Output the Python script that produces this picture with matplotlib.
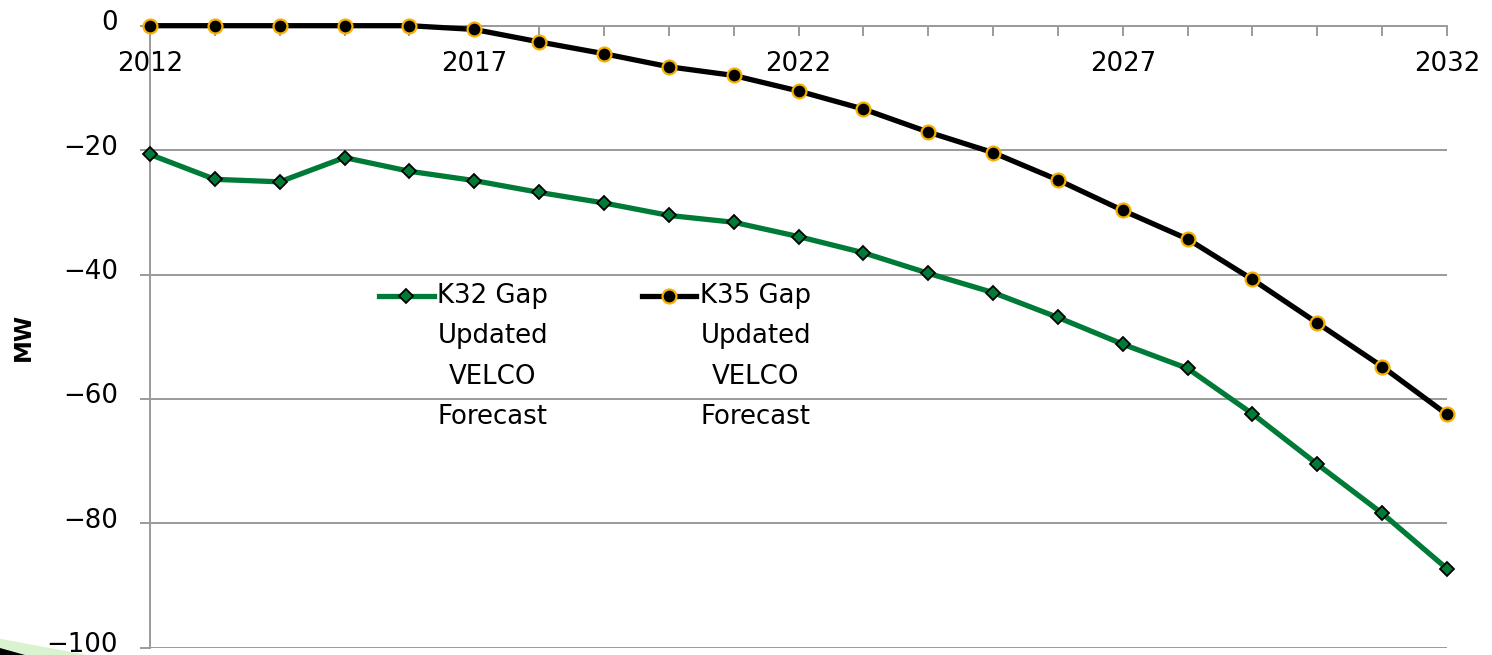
import matplotlib
matplotlib.use("Agg")
import matplotlib.pyplot as plt
from matplotlib.ticker import MultipleLocator, FixedLocator
from matplotlib.legend_handler import HandlerLine2D
from matplotlib.patches import Polygon
from matplotlib.transforms import ScaledTranslation

# ---- data ----
years = list(range(2012, 2033))
k32_gap = [-20.7, -24.7, -25.1, -21.2, -23.4, -24.9, -26.8, -28.5, -30.5, -31.6,
           -33.9, -36.5, -39.8, -42.9, -46.9, -51.2, -55.1, -62.4, -70.5, -78.4, -87.3]
k35_gap = [0.0, 0.0, 0.0, 0.0, 0.0, -0.6, -2.6, -4.5, -6.6, -8.0,
           -10.5, -13.4, -17.1, -20.4, -24.8, -29.7, -34.3, -40.8, -47.8, -54.8, -62.5]
x_tick_years = [2012, 2017, 2022, 2027, 2032]
series_labels = ["K32 Gap\nUpdated\nVELCO\nForecast", "K35 Gap\nUpdated\nVELCO\nForecast"]
y_label = "MW"

W, H, DPI = 1492, 655, 100
plt.rcParams['font.family'] = ['DejaVu Sans']
fig = plt.figure(figsize=(W / DPI, H / DPI), dpi=DPI)

# decoration bottom-left
fig.patches.append(Polygon([(0, 1 - 638.7 / H), (87 / W, 0), (0, 0)], closed=True,
                           transform=fig.transFigure, facecolor="#d9f2d0", edgecolor="none", zorder=0))
fig.patches.append(Polygon([(0, 1 - 648 / H), (25 / W, 0), (0, 0)], closed=True,
                           transform=fig.transFigure, facecolor="black", edgecolor="none", zorder=0))

ax = fig.add_axes([150 / W, 1 - 647.7 / H, 1297 / W, 622 / H])
ax.patch.set_alpha(0)

grid_c = "#9a9a9a"
GREEN = "#007a37"
GOLD = "#f5b000"
FS = 18.7

ax.plot(years, k32_gap, color=GREEN, lw=3.8, marker="D", ms=6.8,
        markerfacecolor=GREEN, markeredgecolor="black", markeredgewidth=1.3,
        label=series_labels[0], zorder=3, solid_joinstyle="round", clip_on=False)
ax.plot(years, k35_gap, color="black", lw=3.8, marker="o", ms=10,
        markerfacecolor="black", markeredgecolor=GOLD, markeredgewidth=1.6,
        label=series_labels[1], zorder=3, solid_joinstyle="round", clip_on=False)

ax.set_xlim(2012, 2032)
ax.set_ylim(-100, 0)

# axes styling
for s in ("top", "right"):
    ax.spines[s].set_visible(False)
ax.spines["bottom"].set_position(("data", 0))
ax.spines["bottom"].set_color(grid_c)
ax.spines["bottom"].set_linewidth(1.4)
ax.spines["left"].set_color(grid_c)
ax.spines["left"].set_linewidth(1.4)
ax.spines["bottom"].set_zorder(2)

ax.xaxis.set_major_locator(FixedLocator(x_tick_years))
ax.xaxis.set_minor_locator(MultipleLocator(1))
ax.tick_params(axis="x", which="both", direction="out", length=7, width=1.4,
               color=grid_c, labelsize=FS, pad=11)
ax.yaxis.set_major_locator(MultipleLocator(20))
ax.tick_params(axis="y", which="major", direction="out", length=7, width=1.4,
               color=grid_c, labelsize=FS, pad=16)
ax.yaxis.grid(True, color=grid_c, lw=1.4)
ax.set_axisbelow(True)
fig.canvas.draw()
for lab in ax.get_yticklabels():
    lab.set_transform(lab.get_transform() + ScaledTranslation(0, 5.5 / DPI, fig.dpi_scale_trans))

ax.set_ylabel(y_label, fontsize=16.5, fontweight="bold")
ax.yaxis.set_label_coords((35 - 150) / 1297, 0.5)

# legend with handle at first text line
LINESP = 1.72
line_px = 40.7
shift_pt = (1.5 * line_px) * 72 / DPI


class TopHandler(HandlerLine2D):
    def create_artists(self, legend, orig_handle, xdescent, ydescent, width, height, fontsize, trans):
        return super().create_artists(legend, orig_handle, xdescent, ydescent - 2 * shift_pt,
                                      width, height, fontsize, trans)


leg = ax.legend(ncol=2, loc="upper left", bbox_to_anchor=((379 - 150) / 1297, (647.7 - 283) / 622),
                frameon=False, fontsize=FS, handlelength=2.1, handletextpad=0.15,
                columnspacing=3.6, borderpad=0, borderaxespad=0,
                handler_map={plt.Line2D: TopHandler(numpoints=1)})
for t in leg.get_texts():
    t.set_multialignment("center")
    t.set_linespacing(LINESP)

fig.savefig("out.png", dpi=DPI)
